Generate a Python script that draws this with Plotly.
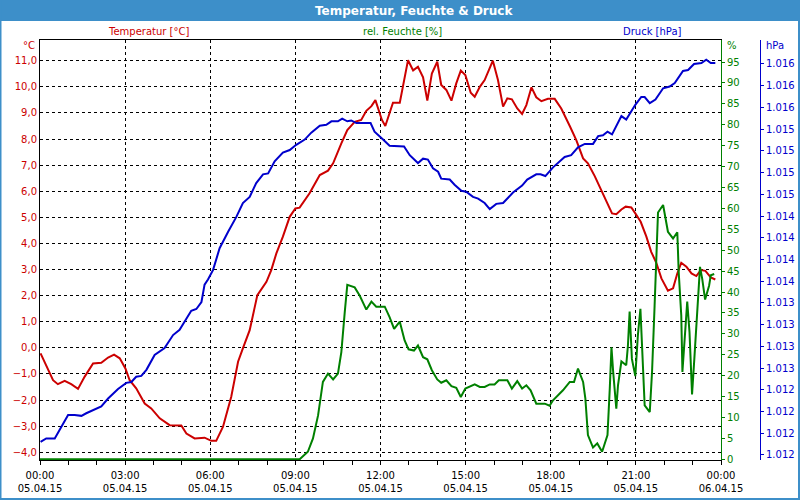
import pandas as pd
import plotly.graph_objects as go

# ---------------- data (hours after 05.04.15 00:00) ----------------
temp_hours = [0.02, 0.28, 0.46, 0.63, 0.87, 1.10, 1.34, 1.57, 1.87, 2.16, 2.40, 2.61, 2.81, 3.01, 3.16,
              3.39, 3.69, 3.92, 4.22, 4.57, 4.98, 5.16, 5.45, 5.80, 6.04, 6.21, 6.45, 6.74, 6.98, 7.15,
              7.39, 7.66, 7.98, 8.15, 8.33, 8.56, 8.80, 9.00, 9.15, 9.50, 9.86, 10.15, 10.33, 10.62,
              10.83, 11.09, 11.32, 11.50, 11.68, 11.82, 11.94, 12.05, 12.17, 12.44, 12.68, 12.97, 13.15,
              13.32, 13.50, 13.65, 13.81, 14.00, 14.14, 14.32, 14.50, 14.67, 14.83, 14.99, 15.18, 15.32,
              15.50, 15.67, 15.96, 16.14, 16.32, 16.47, 16.63, 16.82, 16.99, 17.14, 17.32, 17.49, 17.67,
              17.90, 18.14, 18.37, 18.67, 18.90, 19.14, 19.31, 19.55, 19.78, 20.02, 20.16, 20.31, 20.49,
              20.64, 20.84, 20.98, 21.17, 21.37, 21.54, 21.72, 21.90, 22.13, 22.31, 22.46, 22.60, 22.78,
              22.96, 23.13, 23.29, 23.45, 23.64, 23.80]
temp_values = [-0.21, -0.85, -1.24, -1.39, -1.26, -1.39, -1.57, -1.11, -0.60, -0.57, -0.37, -0.26, -0.40,
               -0.79, -1.24, -1.55, -2.13, -2.32, -2.70, -2.96, -2.97, -3.28, -3.47, -3.44, -3.56, -3.56,
               -3.02, -1.87, -0.53, -0.02, 0.68, 2.02, 2.53, 2.98, 3.62, 4.26, 5.02, 5.34, 5.37, 5.92,
               6.62, 6.79, 7.07, 7.83, 8.34, 8.66, 8.73, 9.08, 9.26, 9.49, 9.11, 8.73, 8.50, 9.39, 9.39,
               11.02, 10.63, 10.77, 10.36, 9.47, 10.51, 10.96, 10.07, 9.88, 9.47, 10.13, 10.62, 10.45,
               9.77, 9.62, 10.00, 10.26, 11.00, 10.26, 9.24, 9.56, 9.52, 9.17, 8.96, 9.30, 9.98, 9.60,
               9.45, 9.54, 9.54, 9.17, 8.50, 7.96, 7.26, 7.07, 6.58, 6.04, 5.47, 5.15, 5.12, 5.30, 5.41,
               5.38, 5.15, 4.83, 4.26, 3.68, 3.26, 2.66, 2.19, 2.28, 2.85, 3.26, 3.11, 2.85, 2.75, 2.98,
               2.95, 2.70, 2.62]

hum_hours = [0.0, 9.15, 9.44, 9.62, 9.80, 9.97, 10.15, 10.33, 10.50, 10.62, 10.74, 10.83, 11.09, 11.27,
             11.50, 11.68, 11.85, 12.15, 12.32, 12.48, 12.68, 12.85, 12.99, 13.18, 13.32, 13.50, 13.65,
             13.81, 14.00, 14.14, 14.32, 14.50, 14.67, 14.83, 14.99, 15.32, 15.50, 15.67, 15.85, 16.02,
             16.17, 16.47, 16.63, 16.82, 16.99, 17.14, 17.29, 17.49, 17.79, 17.96, 18.08, 18.20, 18.43,
             18.67, 18.82, 18.96, 19.14, 19.22, 19.31, 19.49, 19.64, 19.81, 20.00, 20.08, 20.14, 20.20,
             20.31, 20.37, 20.49, 20.66, 20.72, 20.78, 20.86, 20.98, 21.07, 21.16, 21.23, 21.31, 21.49,
             21.57, 21.66, 21.78, 21.96, 22.13, 22.31, 22.46, 22.51, 22.60, 22.64, 22.70, 22.81, 22.89,
             22.98, 23.06, 23.17, 23.26, 23.34, 23.44, 23.58, 23.64, 23.76]
hum_values = [0, 0, 1.8, 5.0, 10.5, 18.5, 20.5, 19.1, 20.5, 25.6, 35.2, 41.7, 41.1, 39.1, 35.8, 37.7,
              36.5, 36.5, 34.0, 31.2, 32.9, 28.4, 26.3, 26.0, 27.2, 24.4, 23.9, 21.3, 19.1, 18.3, 18.9,
              17.5, 17.1, 14.9, 16.9, 17.9, 17.3, 17.3, 17.9, 17.9, 18.9, 18.9, 16.9, 18.7, 16.9, 17.7,
              16.5, 13.3, 13.3, 12.8, 14.1, 14.9, 16.5, 18.5, 18.5, 21.7, 18.5, 14.5, 5.8, 2.8, 3.8, 1.8,
              5.8, 16.9, 26.8, 20.9, 12.1, 17.7, 23.4, 22.5, 27.2, 35.3, 24.0, 19.9, 29.6, 36.0, 25.6,
              12.9, 11.3, 20.9, 36.7, 59.0, 60.8, 54.4, 52.8, 54.3, 44.7, 34.4, 20.9, 27.2, 37.7, 30.4,
              15.5, 24.0, 36.7, 46.0, 43.1, 38.2, 41.5, 44.0, 44.3]

press_hours = [0.02, 0.22, 0.52, 0.75, 0.99, 1.22, 1.46, 1.63, 1.93, 2.16, 2.40, 2.75, 3.04, 3.22, 3.39,
               3.57, 3.75, 4.04, 4.39, 4.69, 4.92, 5.33, 5.51, 5.69, 5.80, 5.92, 6.10, 6.33, 6.63, 6.92,
               7.15, 7.39, 7.62, 7.86, 8.04, 8.27, 8.56, 8.80, 9.03, 9.33, 9.56, 9.86, 10.09, 10.27,
               10.50, 10.65, 10.83, 10.97, 11.15, 11.65, 11.79, 11.91, 12.09, 12.32, 12.83, 13.03, 13.32,
               13.50, 13.67, 13.85, 14.03, 14.14, 14.44, 14.61, 14.85, 15.02, 15.26, 15.44, 15.67, 15.85,
               16.08, 16.32, 16.67, 16.99, 17.17, 17.49, 17.64, 17.81, 18.08, 18.49, 18.72, 18.96, 19.20,
               19.49, 19.67, 19.84, 20.00, 20.16, 20.49, 20.66, 20.98, 21.19, 21.31, 21.49, 21.69, 21.96,
               22.19, 22.37, 22.66, 22.84, 23.05, 23.31, 23.48, 23.64, 23.80]
press_values = [1011.65, 1011.69, 1011.69, 1011.83, 1011.96, 1011.96, 1011.95, 1011.98, 1012.03, 1012.06,
                1012.15, 1012.26, 1012.33, 1012.34, 1012.40, 1012.41, 1012.48, 1012.65, 1012.73, 1012.88,
                1012.94, 1013.16, 1013.18, 1013.26, 1013.46, 1013.52, 1013.63, 1013.88, 1014.07, 1014.24,
                1014.40, 1014.47, 1014.63, 1014.73, 1014.74, 1014.88, 1014.98, 1015.01, 1015.07, 1015.13,
                1015.21, 1015.29, 1015.30, 1015.34, 1015.34, 1015.37, 1015.34, 1015.35, 1015.32, 1015.32,
                1015.22, 1015.18, 1015.13, 1015.06, 1015.05, 1014.95, 1014.86, 1014.91, 1014.90, 1014.80,
                1014.76, 1014.68, 1014.67, 1014.61, 1014.54, 1014.53, 1014.47, 1014.45, 1014.40, 1014.33,
                1014.39, 1014.40, 1014.52, 1014.60, 1014.67, 1014.73, 1014.73, 1014.71, 1014.81, 1014.93,
                1014.95, 1015.04, 1015.08, 1015.08, 1015.17, 1015.18, 1015.22, 1015.19, 1015.40, 1015.36,
                1015.53, 1015.62, 1015.62, 1015.55, 1015.59, 1015.72, 1015.74, 1015.78, 1015.92, 1015.93,
                1016.00, 1016.01, 1016.05, 1016.01, 1016.01]

# axis tick values
hum_ticks = [0, 5, 10, 15, 20, 25, 30, 35, 40, 45, 50, 55, 60, 65, 70, 75, 80, 85, 90, 95]
press_ticks = [1011.5, 1011.75, 1012.0, 1012.25, 1012.5, 1012.75, 1013.0, 1013.25, 1013.5, 1013.75,
               1014.0, 1014.25, 1014.5, 1014.75, 1015.0, 1015.25, 1015.5, 1015.75, 1016.0]

title_text = "Temperatur, Feuchte & Druck"
series_names = ["Temperatur [°C]", "rel. Feuchte [%]", "Druck [hPa]"]
unit_labels = ["°C", "%", "hPa"]

# ---------------- styling ----------------
BASE = pd.Timestamp("2015-04-05 00:00")


def to_time(hours):
    return [BASE + pd.Timedelta(hours=h) for h in hours]


RED = "#cc0000"
GREEN = "#008000"
BLUE = "#0000cc"
BAR = "#3d8fc9"
FONT = "DejaVu Sans, sans-serif"
FS = 10

W, H = 800, 500
L, R, T, B = 40, 40, 40, 40          # paper area: x 40..760, y 40..460
PW, PH = W - L - R, H - T - B
PLOT_RIGHT = 721                      # right edge of the plotting area (px)


def px(x):
    return (x - L) / PW


def py(y):
    return (H - B - y) / PH


fig = go.Figure()
fig.add_trace(go.Scatter(x=to_time(temp_hours), y=temp_values, mode="lines", name=series_names[0],
                         line=dict(color=RED, width=2), yaxis="y"))
fig.add_trace(go.Scatter(x=to_time(press_hours), y=press_values, mode="lines", name=series_names[2],
                         line=dict(color=BLUE, width=2), yaxis="y3"))
fig.add_trace(go.Scatter(x=to_time(hum_hours), y=hum_values, mode="lines", name=series_names[1],
                         line=dict(color=GREEN, width=2), yaxis="y2"))

grid = dict(showgrid=True, gridcolor="black", gridwidth=1, griddash="3px,3px")

fig.update_layout(
    template="none",
    width=W, height=H,
    margin=dict(l=L, r=R, t=T, b=B, pad=0),
    paper_bgcolor="white", plot_bgcolor="white",
    showlegend=False,
    separators=",.",
    font=dict(family=FONT, size=FS, color="black"),
    xaxis=dict(
        type="date", automargin=False,
        domain=[0, px(PLOT_RIGHT)],
        range=[BASE, BASE + pd.Timedelta(hours=24)],
        tick0=BASE, dtick=3 * 3600 * 1000,
        tickformat="%H:%M<br>%d.%m.%y",
        ticks="outside", ticklen=4, tickcolor="black", tickwidth=1,
        ticklabelstandoff=2,
        minor=dict(dtick=3600 * 1000, ticks="outside", ticklen=4, tickcolor="black", tickwidth=1,
                   showgrid=False),
        showline=True, linecolor="black", linewidth=1, mirror=True,
        tickfont=dict(color="black", size=FS),
        zeroline=False,
        **grid,
    ),
    yaxis=dict(
        automargin=False,
        range=[-4.295, 11.793], tick0=0, dtick=1, tickformat=".1f",
        ticks="", showline=True, linecolor="black", linewidth=1,
        tickfont=dict(color=RED, size=FS), zeroline=False,
        **grid,
    ),
    yaxis2=dict(
        automargin=False,
        overlaying="y", side="right", anchor="x",
        range=[-0.17, 100.26], tickmode="array", tickvals=hum_ticks,
        ticks="outside", ticklen=3, tickcolor=GREEN, tickwidth=1,
        showline=True, linecolor=GREEN, linewidth=1,
        tickfont=dict(color=GREEN, size=FS), showgrid=False, zeroline=False,
    ),
    yaxis3=dict(
        automargin=False,
        overlaying="y", side="right", anchor="free", position=1.0,
        range=[1011.442, 1016.276], tickmode="array", tickvals=press_ticks, tickformat=",.0f",
        ticks="outside", ticklen=3, tickcolor=BLUE, tickwidth=1,
        showline=True, linecolor=BLUE, linewidth=1,
        tickfont=dict(color=BLUE, size=FS), showgrid=False, zeroline=False,
    ),
)

fig.add_shape(type="rect", xref="paper", yref="paper", x0=px(0), x1=px(800), y0=py(21), y1=py(0),
              fillcolor=BAR, line=dict(width=0), layer="above")
fig.add_shape(type="rect", xref="paper", yref="paper", x0=px(0.5), x1=px(799), y0=py(499), y1=py(0),
              fillcolor="rgba(0,0,0,0)", line=dict(color=BAR, width=2), layer="above")

ann = [
    dict(text="<b>" + title_text + "</b>", x=px(414), y=py(10.5), xanchor="center",
         font=dict(color="white", size=12)),
    dict(text=series_names[0], x=px(148), y=py(31), xanchor="center", font=dict(color=RED)),
    dict(text=series_names[1], x=px(402), y=py(31), xanchor="center", font=dict(color=GREEN)),
    dict(text=series_names[2], x=px(652), y=py(31), xanchor="center", font=dict(color=BLUE)),
    dict(text=unit_labels[0], x=px(37), y=py(46), xanchor="right", font=dict(color=RED)),
    dict(text=unit_labels[1], x=px(725), y=py(46), xanchor="left", font=dict(color=GREEN)),
    dict(text=unit_labels[2], x=px(764), y=py(46), xanchor="left", font=dict(color=BLUE)),
]
for a in ann:
    fig.add_annotation(xref="paper", yref="paper", yanchor="middle", showarrow=False, **a)

fig.write_html("out.html",
               config={"displayModeBar": False},
               post_script="document.body.style.margin='0';document.body.style.padding='0';"
                           "document.body.style.overflow='hidden';")
